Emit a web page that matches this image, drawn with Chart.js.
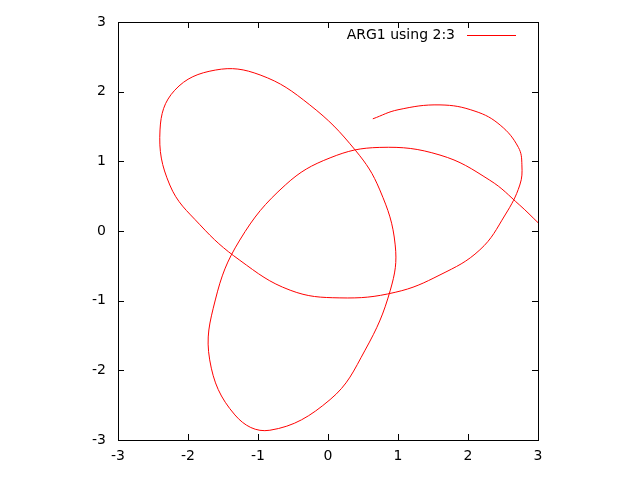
<!DOCTYPE html>
<html>
<head>
<script src="https://cdn.jsdelivr.net/npm/chart.js@4"></script>
<style>body{margin:0;background:#fff}</style>
</head>
<body>
<canvas id="c" width="640" height="480"></canvas>
<script>
const xs = [0.64, 1.0, 1.6, 2.1, 2.46, 2.72, 2.77, 2.74, 2.53, 2.17, 1.6, 0.96, 0.17, -0.54, -1.26, -1.83, -2.26, -2.4, -2.19, -1.61, -0.97, -0.26, 0.39, 0.74, 0.96, 0.89, 0.53, 0.03, -0.83, -1.33, -1.69, -1.61, -1.26, -0.61, 0.03, 0.74, 1.6, 2.31, 2.74, 3.0];
const ys = [1.61, 1.74, 1.81, 1.72, 1.52, 1.2, 0.95, 0.66, 0.23, -0.27, -0.63, -0.88, -0.96, -0.85, -0.42, 0.09, 0.66, 1.45, 2.02, 2.31, 2.24, 1.81, 1.16, 0.59, -0.2, -0.85, -1.71, -2.42, -2.86, -2.64, -1.85, -0.99, -0.13, 0.66, 1.05, 1.2, 1.09, 0.73, 0.37, 0.12];
const tickVals = [-3, -2, -1, 0, 1, 2, 3];
const legendLabel = 'ARG1 using 2:3';

const frame = {
  id: 'frame',
  afterDraw(chart) {
    const { ctx, chartArea: a } = chart;
    ctx.save();
    ctx.strokeStyle = '#000';
    ctx.lineWidth = 1;
    ctx.strokeRect(a.left + 0.5, a.top + 0.5, a.right - a.left, a.bottom - a.top);
    // inward ticks on all sides
    const sx = chart.scales.x, sy = chart.scales.y;
    ctx.beginPath();
    tickVals.forEach(v => {
      const px = Math.round(sx.getPixelForValue(v)) + 0.5;
      ctx.moveTo(px, a.bottom); ctx.lineTo(px, a.bottom - 6);
      ctx.moveTo(px, a.top); ctx.lineTo(px, a.top + 6);
      const py = Math.round(sy.getPixelForValue(v)) + 0.5;
      ctx.moveTo(a.left, py); ctx.lineTo(a.left + 6, py);
      ctx.moveTo(a.right, py); ctx.lineTo(a.right - 6, py);
    });
    ctx.stroke();
    // legend
    ctx.font = '14px "DejaVu Sans", sans-serif';
    ctx.fillStyle = '#000';
    ctx.textAlign = 'right';
    ctx.textBaseline = 'middle';
    ctx.fillText(legendLabel, 455, 35);
    ctx.strokeStyle = '#ff0000';
    ctx.beginPath();
    ctx.moveTo(467, 35.5); ctx.lineTo(516, 35.5);
    ctx.stroke();
    ctx.restore();
  }
};

new Chart(document.getElementById('c'), {
  type: 'scatter',
  data: {
    datasets: [{
      label: legendLabel,
      data: xs.map((x, i) => ({ x: x, y: ys[i] })),
      showLine: true,
      borderColor: '#ff0000',
      borderWidth: 1,
      pointRadius: 0,
      tension: 0.4,
      fill: false
    }]
  },
  options: {
    responsive: false,
    animation: false,
    layout: { padding: { left: 88, right: 102, top: 22, bottom: 0 } },
    plugins: { legend: { display: false }, tooltip: { enabled: false } },
    scales: {
      x: {
        min: -3, max: 3,
        afterFit: s => { s.height = 40; },
        grid: { display: false, drawTicks: false },
        border: { display: false },
        afterBuildTicks: s => { s.ticks = tickVals.map(v => ({ value: v })); },
        ticks: { color: '#000', padding: 8, font: { size: 14, family: 'DejaVu Sans' } }
      },
      y: {
        min: -3, max: 3,
        afterFit: s => { s.width = 30; },
        grid: { display: false, drawTicks: false },
        border: { display: false },
        afterBuildTicks: s => { s.ticks = tickVals.map(v => ({ value: v })); },
        ticks: { color: '#000', padding: 12, font: { size: 14, family: 'DejaVu Sans' } }
      }
    }
  },
  plugins: [frame]
});
</script>
</body>
</html>
